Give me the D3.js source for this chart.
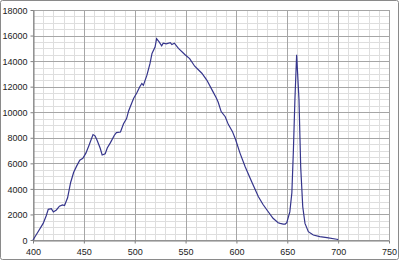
<!DOCTYPE html>
<html>
<head>
<meta charset="utf-8">
<script src="https://cdn.jsdelivr.net/npm/d3@7"></script>
<style>
    body { margin: 0; background: #ffffff; }
    svg { display: block; }
    .tick text { font-family: "Liberation Sans", Arial, sans-serif; font-size: 9px; fill: #222; }
</style>
</head>
<body>
<div id="chart"></div>
<script>
// spectrum
const wavelengths = [400, 405, 410, 413, 415, 418, 420, 423, 426, 429, 431, 434, 437, 440, 443, 446, 449,
    452, 455, 459, 461, 463, 466, 468, 471, 473, 476, 480, 482, 486, 489, 492, 494, 497, 499, 502, 505,
    507, 508.5, 512, 515, 517, 520, 521.5, 524, 526.5, 528, 531, 535, 536.5, 539, 543, 549.5, 554, 559,
    566, 571, 576, 580, 582, 585, 589, 592, 596, 599, 603.5, 608.5, 615, 621.5, 626, 630, 636, 641, 643,
    646, 648, 649.5, 652.5, 654.5, 656, 657.5, 659.2, 661.5, 663.2, 665.2, 667.4, 670.7, 675.6, 682, 689,
    698.6, 700]
const intensity = [0, 650, 1300, 1900, 2400, 2450, 2200, 2350, 2650, 2750, 2700, 3300, 4500, 5300, 5800, 6250, 6400,
    6800, 7400, 8250, 8150, 7800, 7200, 6650, 6750, 7200, 7600, 8200, 8400, 8450, 9100, 9500, 10100, 10700, 11100, 11500, 12000,
    12250, 12100, 12900, 13800, 14600, 15100, 15750, 15500, 15200, 15400, 15350, 15450, 15300, 15400, 15000, 14500, 14200, 13600,
    13050, 12500, 11750, 11150, 10800, 10050, 9650, 9050, 8500, 7900, 6800, 5750, 4550, 3400, 2800, 2350, 1700, 1350, 1300,
    1250, 1250, 1350, 2200, 3700, 7000, 11000, 14500, 11000, 5700, 2600, 1300, 650, 390, 260, 180,
    60, 30]

const xTicks = [400, 450, 500, 550, 600, 650, 700, 750]
const yTicks = [0, 2000, 4000, 6000, 8000, 10000, 12000, 14000, 16000, 18000]
const xMinor = d3.range(400, 751, 10)
const yMinor = d3.range(0, 18001, 500)

const W = 400, H = 261
const margin = {left: 33, right: 11, top: 10, bottom: 21}

const svg = d3.select("#chart").append("svg")
    .attr("width", W)
    .attr("height", H)

const x = d3.scaleLinear().domain([400, 750]).range([margin.left, W - margin.right])
const y = d3.scaleLinear().domain([0, 18000]).range([H - margin.bottom, margin.top])

// outer frame
svg.append("rect")
    .attr("x", 0.5)
    .attr("y", 0.5)
    .attr("width", W - 2)
    .attr("height", H - 2)
    .attr("rx", 2)
    .attr("fill", "white")
    .style("stroke", "#8a8a8a")

// minor grid
svg.append("g").selectAll("line")
    .data(xMinor)
    .enter()
    .append("line")
    .attr("x1", (d) => Math.round(x(d)) + 0.5)
    .attr("x2", (d) => Math.round(x(d)) + 0.5)
    .attr("y1", y(18000))
    .attr("y2", y(0))
    .style("stroke", "#dedede")
svg.append("g").selectAll("line")
    .data(yMinor)
    .enter()
    .append("line")
    .attr("x1", x(400))
    .attr("x2", x(750))
    .attr("y1", (d) => Math.round(y(d)) + 0.5)
    .attr("y2", (d) => Math.round(y(d)) + 0.5)
    .style("stroke", "#dedede")

// major grid
svg.append("g").selectAll("line")
    .data(xTicks)
    .enter()
    .append("line")
    .attr("x1", (d) => Math.round(x(d)) + 0.5)
    .attr("x2", (d) => Math.round(x(d)) + 0.5)
    .attr("y1", y(18000))
    .attr("y2", y(0))
    .style("stroke", "#a6a6a6")
svg.append("g").selectAll("line")
    .data(yTicks)
    .enter()
    .append("line")
    .attr("x1", x(400))
    .attr("x2", x(750))
    .attr("y1", (d) => Math.round(y(d)) + 0.5)
    .attr("y2", (d) => Math.round(y(d)) + 0.5)
    .style("stroke", "#a6a6a6")

// axes
const xAxis = svg.append("g")
    .attr("transform", "translate(0," + (Math.round(y(0)) + 0.5) + ")")
    .call(d3.axisBottom(x).tickValues(xTicks).tickSize(3).tickSizeOuter(0).tickFormat(d3.format("d")))
const yAxis = svg.append("g")
    .attr("transform", "translate(" + (Math.round(x(400)) + 0.5) + ",0)")
    .call(d3.axisLeft(y).tickValues(yTicks).tickSize(3).tickSizeOuter(0).tickFormat(d3.format("d")))
xAxis.selectAll(".domain, line").style("stroke", "#808080")
yAxis.selectAll(".domain, line").style("stroke", "#808080")
xAxis.selectAll("text").attr("dy", "0.9em")
yAxis.selectAll("text").attr("dy", "0.35em")

// spectrum line
const pts = wavelengths.map((w, i) => [w, intensity[i]])
svg.append("path")
    .datum(pts)
    .attr("fill", "none")
    .style("stroke", "#35358c")
    .style("stroke-width", "1.2px")
    .attr("d", d3.line()
        .x((d) => x(d[0]))
        .y((d) => y(d[1])))
</script>
</body>
</html>
